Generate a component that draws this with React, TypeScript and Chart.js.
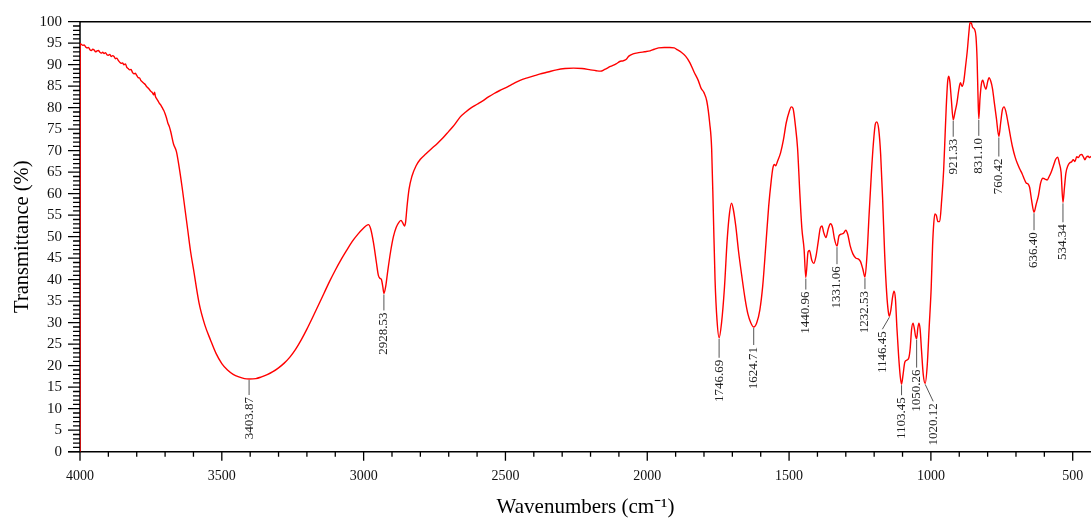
import React, { useEffect, useRef } from "react";
import { Chart, registerables } from "chart.js";

Chart.register(...registerables);

// Spectrum: wavenumber (cm^-1) and transmittance (%)
const wavenumbers = [
  4000, 3999.5, 3995, 3990, 3985, 3980, 3975, 3970, 3965, 3960, 3955, 3950, 3945, 3940, 3935,
  3930, 3925, 3920, 3915, 3910, 3905, 3900, 3895, 3890, 3885, 3880, 3875, 3870, 3865, 3860,
  3855, 3850, 3845, 3840, 3835, 3830, 3825, 3820, 3815, 3810, 3805, 3800, 3795, 3790, 3785,
  3780, 3775, 3770, 3765, 3760, 3755, 3750, 3745, 3740, 3737, 3734, 3730, 3725, 3720, 3715,
  3710, 3705, 3700, 3695, 3690, 3685, 3680, 3670, 3660, 3650, 3640, 3630, 3620, 3610, 3600,
  3580, 3560, 3540, 3520, 3500, 3480, 3460, 3440, 3420, 3403.87, 3380, 3360, 3340, 3320, 3300,
  3280, 3260, 3240, 3220, 3200, 3180, 3160, 3140, 3120, 3100, 3080, 3060, 3040, 3020, 3000,
  2990, 2983, 2975, 2965, 2955, 2948, 2942, 2937, 2932, 2928.53, 2922, 2915, 2905, 2895, 2885,
  2875, 2868, 2862, 2856, 2852, 2847, 2840, 2830, 2815, 2800, 2780, 2760, 2740, 2720, 2700,
  2680, 2660, 2640, 2620, 2600, 2580, 2560, 2540, 2520, 2500, 2480, 2460, 2440, 2420, 2400,
  2380, 2350, 2320, 2290, 2260, 2230, 2200, 2180, 2165, 2150, 2130, 2110, 2095, 2085, 2075,
  2065, 2050, 2030, 2010, 1990, 1975, 1960, 1940, 1920, 1905, 1895, 1880, 1865, 1850, 1835,
  1820, 1810, 1800, 1790, 1780, 1773, 1767, 1761, 1754, 1746.69, 1738, 1728, 1718, 1710, 1703,
  1697, 1688, 1678, 1667, 1655, 1645, 1635, 1624.71, 1614, 1603, 1593, 1582, 1572, 1563, 1557,
  1552, 1547, 1541, 1530, 1520, 1510, 1500, 1492, 1486, 1478, 1470, 1462, 1455, 1447, 1440.96,
  1433, 1428, 1420, 1413, 1405, 1398, 1390, 1384, 1378, 1370, 1362, 1354, 1347, 1340, 1331.06,
  1324, 1316, 1308, 1300, 1293, 1285, 1275, 1264, 1255, 1248, 1240, 1232.53, 1225, 1218, 1210,
  1203, 1196, 1191, 1184, 1177, 1170, 1163, 1156, 1150, 1146.45, 1141, 1135, 1130, 1125, 1120,
  1114, 1108, 1103.45, 1098, 1092, 1085, 1078, 1073, 1068, 1063, 1058, 1054, 1050.26, 1046, 1042,
  1038, 1033, 1027, 1020.12, 1013, 1006, 999, 994, 990, 986, 981, 975, 969, 962, 955,
  950, 946, 941, 937, 933, 928, 921.33, 915, 908, 902, 896, 890, 884, 878, 872,
  866, 862, 857, 853, 846, 841, 837, 834, 831.1, 827, 822, 817, 811, 806, 800,
  795, 789, 783, 776, 769, 760.42, 754, 748, 742, 736, 728, 720, 712, 703, 695,
  687, 678, 670, 664, 658, 652, 645, 636.4, 629, 621, 613, 605, 598, 590, 583,
  576, 568, 560, 553, 547, 541, 534.34, 529, 524, 517, 510, 504, 498, 492, 486,
  480, 474, 468, 462, 457, 452, 446, 440, 436,
];

const transmittance = [
  0, 94.9, 94.7, 94.5, 94.6, 94.1, 93.9, 94.0, 93.5, 93.3, 93.6, 93.4, 93.0, 93.2, 93.3,
  92.9, 92.7, 92.9, 92.6, 92.8, 92.3, 92.2, 92.4, 91.9, 92.1, 91.9, 91.4, 91.5, 91.0, 90.6,
  90.3, 90.4, 90.0, 90.2, 89.4, 89.1, 88.8, 88.9, 88.2, 87.9, 88.0, 87.5, 87.0, 86.9, 86.3,
  86.0, 85.7, 85.4, 84.9, 84.6, 84.2, 83.8, 83.5, 83.0, 83.6, 82.6, 82.1, 81.6, 81.0, 80.6,
  80.0, 79.4, 78.6, 77.6, 76.4, 75.6, 74.4, 71.5, 69.8, 66.0, 61.5, 56.5, 51.5, 46.5, 42.5,
  34.5, 29.5, 26.0, 22.8, 20.5, 19.0, 18.0, 17.4, 17.0, 16.9, 17.0, 17.4, 17.9, 18.6, 19.5,
  20.6, 22.0, 23.8, 26.0, 28.5, 31.2, 34.0, 36.8, 39.6, 42.2, 44.6, 46.8, 48.9, 50.6, 52.0,
  52.6, 52.8, 51.8, 48.5, 44.0, 41.0, 40.3, 40.0, 38.2, 36.8, 38.5, 42.0, 46.5, 50.0, 52.2,
  53.4, 53.8, 53.2, 52.5, 53.4, 57.0, 61.0, 64.0, 66.5, 68.0, 69.3, 70.5, 71.7, 73.0, 74.5,
  76.0, 77.8, 79.0, 80.0, 80.8, 81.6, 82.5, 83.3, 84.0, 84.6, 85.3, 86.0, 86.6, 87.0, 87.4,
  87.8, 88.3, 88.8, 89.1, 89.2, 89.1, 88.8, 88.6, 88.5, 88.9, 89.6, 90.2, 90.8, 90.9, 91.2,
  92.0, 92.5, 92.8, 93.0, 93.2, 93.6, 93.9, 94.0, 94.0, 93.9, 93.5, 92.9, 92.0, 90.5, 88.3,
  86.3, 84.5, 83.5, 81.5, 76.5, 70.5, 55.5, 40.0, 30.5, 26.5, 30.0, 38.0, 49.5, 55.5, 57.8,
  56.5, 52.5, 46.5, 41.0, 35.5, 32.0, 30.0, 29.0, 30.0, 33.0, 38.5, 48.0, 57.0, 63.0, 66.0,
  66.8, 66.5, 67.5, 69.5, 72.5, 76.5, 79.0, 80.2, 79.8, 76.0, 70.5, 60.0, 52.0, 47.0, 40.5,
  46.5, 46.8, 44.5, 43.8, 45.5, 48.5, 52.0, 52.5, 51.0, 49.8, 51.8, 53.0, 52.2, 49.5, 47.8,
  50.2, 50.6, 50.8, 51.5, 50.5, 48.0, 46.0, 45.0, 44.8, 44.2, 42.5, 40.6, 46.0, 55.0, 64.5,
  71.5, 76.2, 76.7, 75.0, 69.0, 58.5, 46.0, 37.0, 32.5, 31.5, 33.0, 36.0, 37.3, 35.5, 29.0,
  22.5, 17.5, 15.7, 18.0, 20.8, 21.3, 21.8, 24.0, 28.5, 29.9, 28.5, 26.8, 26.3, 28.8, 29.9,
  28.5, 23.5, 18.0, 15.9, 20.0, 29.0, 38.0, 48.0, 53.0, 55.3, 55.0, 53.5, 53.5, 58.5, 65.5,
  73.5, 80.0, 86.0, 87.3, 86.0, 82.0, 77.2, 79.0, 81.2, 84.0, 85.8, 85.0, 86.2, 89.5, 93.0,
  97.5, 99.8, 99.6, 98.7, 98.2, 96.5, 91.0, 83.0, 77.4, 82.0, 85.5, 86.4, 85.0, 84.3, 86.0,
  87.0, 86.2, 84.5, 81.0, 77.5, 73.3, 76.5, 79.5, 80.2, 79.2, 76.5, 73.5, 70.8, 68.5, 67.0,
  65.8, 64.6, 63.3, 62.5, 62.3, 61.5, 58.5, 55.7, 57.5, 59.5, 62.5, 63.6, 63.4, 63.2, 64.0,
  65.0, 66.5, 68.0, 68.5, 67.0, 65.0, 58.0, 61.5, 64.8, 66.5, 67.2, 67.4, 67.9, 67.5, 68.6,
  68.4, 69.0, 69.1, 68.5, 67.9, 68.5, 68.7, 68.4, 68.7,
];

// Labelled absorption bands
const peakWavenumbers = [
  3403.87, 2928.53, 1746.69, 1624.71, 1440.96, 1331.06, 1232.53, 1146.45,
  1103.45, 1050.26, 1020.12, 921.33, 831.1, 760.42, 636.4, 534.34,
];
const peakLabels = [
  "3403.87", "2928.53", "1746.69", "1624.71", "1440.96", "1331.06", "1232.53", "1146.45",
  "1103.45", "1050.26", "1020.12", "921.33", "831.10", "760.42", "636.40", "534.34",
];

// Axis ticks
const xTickValues = [500, 1000, 1500, 2000, 2500, 3000, 3500, 4000];
const xMinorStep = 100;
const yMinorStep = 1;

// Leader-line layout for the peak labels (pixels)
const leaderLength = [16, 17, 20, 18, 12, 18, 12, 13, 11, 29, 18, 17, 17, 20, 18, 20];
const leaderShift = [0, 0, 0, 0, 0, 0, 0, -7, 0, 0, 8, 0, 0, 0, 0, 0];

const FONT = '"Liberation Serif", "Times New Roman", serif';

const framePlugin = {
  id: "frame",
  beforeDatasetsDraw(chart: any) {
    const { ctx, chartArea: a, scales } = chart;
    const x = scales.x;
    const y = scales.y;
    ctx.save();
    ctx.strokeStyle = "#000";
    ctx.lineWidth = 1.5;
    ctx.beginPath();
    ctx.moveTo(a.left, a.top);
    ctx.lineTo(a.right + 2, a.top);
    ctx.moveTo(a.left, a.top);
    ctx.lineTo(a.left, a.bottom);
    ctx.moveTo(a.left - 12, a.bottom);
    ctx.lineTo(a.right + 2, a.bottom);
    ctx.stroke();
    ctx.lineWidth = 1.3;
    ctx.beginPath();
    for (let v = y.min; v <= y.max + 1e-6; v += yMinorStep) {
      const py = y.getPixelForValue(v);
      const len = Math.round(v) % 5 === 0 ? 12 : 7;
      ctx.moveTo(a.left - len, py);
      ctx.lineTo(a.left, py);
    }
    for (let v = Math.ceil(x.min / xMinorStep) * xMinorStep; v <= x.max; v += xMinorStep) {
      const px = x.getPixelForValue(v);
      const len = xTickValues.includes(v) ? 9 : 5;
      ctx.moveTo(px, a.bottom);
      ctx.lineTo(px, a.bottom + len);
    }
    ctx.stroke();
    ctx.restore();
  },
};

const peakPlugin = {
  id: "peaks",
  afterDatasetsDraw(chart: any) {
    const { ctx, scales } = chart;
    const x = scales.x;
    const y = scales.y;
    ctx.save();
    ctx.font = `13px ${FONT}`;
    ctx.fillStyle = "#222";
    peakWavenumbers.forEach((wn, i) => {
      const idx = wavenumbers.indexOf(wn);
      const val = transmittance[idx];
      const px = x.getPixelForValue(wn);
      const py = y.getPixelForValue(val);
      const ex = px + leaderShift[i];
      const ey = py + leaderLength[i];
      ctx.strokeStyle = "#555";
      ctx.lineWidth = 1;
      ctx.beginPath();
      ctx.moveTo(px, py + 1);
      ctx.lineTo(ex, ey);
      ctx.stroke();
      ctx.save();
      ctx.translate(ex, ey + 2);
      ctx.rotate(-Math.PI / 2);
      ctx.textAlign = "right";
      ctx.textBaseline = "middle";
      ctx.fillText(peakLabels[i], 0, 0);
      ctx.restore();
    });
    ctx.restore();
  },
};

export default function App() {
  const ref = useRef<HTMLCanvasElement>(null);

  useEffect(() => {
    const canvas = ref.current;
    if (!canvas) return;
    const chart = new Chart(canvas, {
      type: "line",
      data: {
        datasets: [
          {
            data: wavenumbers.map((w, i) => ({ x: w, y: transmittance[i] })),
            borderColor: "#ff0000",
            borderWidth: 1.4,
            pointRadius: 0,
            fill: false,
            cubicInterpolationMode: "monotone",
          },
        ],
      },
      options: {
        responsive: false,
        animation: false,
        devicePixelRatio: 1,
        layout: { autoPadding: false, padding: { top: 21.7, right: 0, left: 0, bottom: 0 } },
        plugins: { legend: { display: false }, tooltip: { enabled: false } },
        scales: {
          x: {
            type: "linear",
            reverse: true,
            min: 435.5,
            max: 4000,
            bounds: "data",
            afterBuildTicks: (s: any) => {
              s.ticks = xTickValues.map((v) => ({ value: v }));
            },
            afterFit: (s: any) => {
              s.height = 68.3;
              s.paddingLeft = 0;
              s.paddingRight = 0;
            },
            grid: { display: false, drawTicks: false },
            border: { display: false },
            ticks: {
              callback: (v: any) => String(v),
              padding: 16.5,
              autoSkip: false,
              maxRotation: 0,
              color: "#111",
              font: { family: FONT, size: 14 },
            },
            title: {
              display: true,
              text: "Wavenumbers (cm⁻¹)",
              color: "#000",
              font: { family: FONT, size: 21 },
              padding: { top: 0, bottom: 0 },
            },
          },
          y: {
            min: 0,
            max: 100,
            afterFit: (s: any) => {
              s.width = 80;
              s.paddingTop = 0;
              s.paddingBottom = 0;
            },
            grid: { display: false, drawTicks: false },
            border: { display: false },
            ticks: {
              stepSize: 5,
              autoSkip: false,
              callback: (v: any) => String(v),
              padding: 18,
              color: "#111",
              font: { family: FONT, size: 15 },
            },
            title: {
              display: true,
              text: "Transmittance (%)",
              color: "#000",
              font: { family: FONT, size: 20.5 },
              padding: { top: 10, bottom: 0 },
            },
          },
        },
      },
      plugins: [framePlugin, peakPlugin],
    } as any);
    return () => chart.destroy();
  }, []);

  return (
    <div style={{ position: "absolute", left: 0, top: 0, width: 1091, height: 520, background: "#fff" }}>
      <canvas ref={ref} width={1091} height={520} style={{ display: "block" }} />
    </div>
  );
}
